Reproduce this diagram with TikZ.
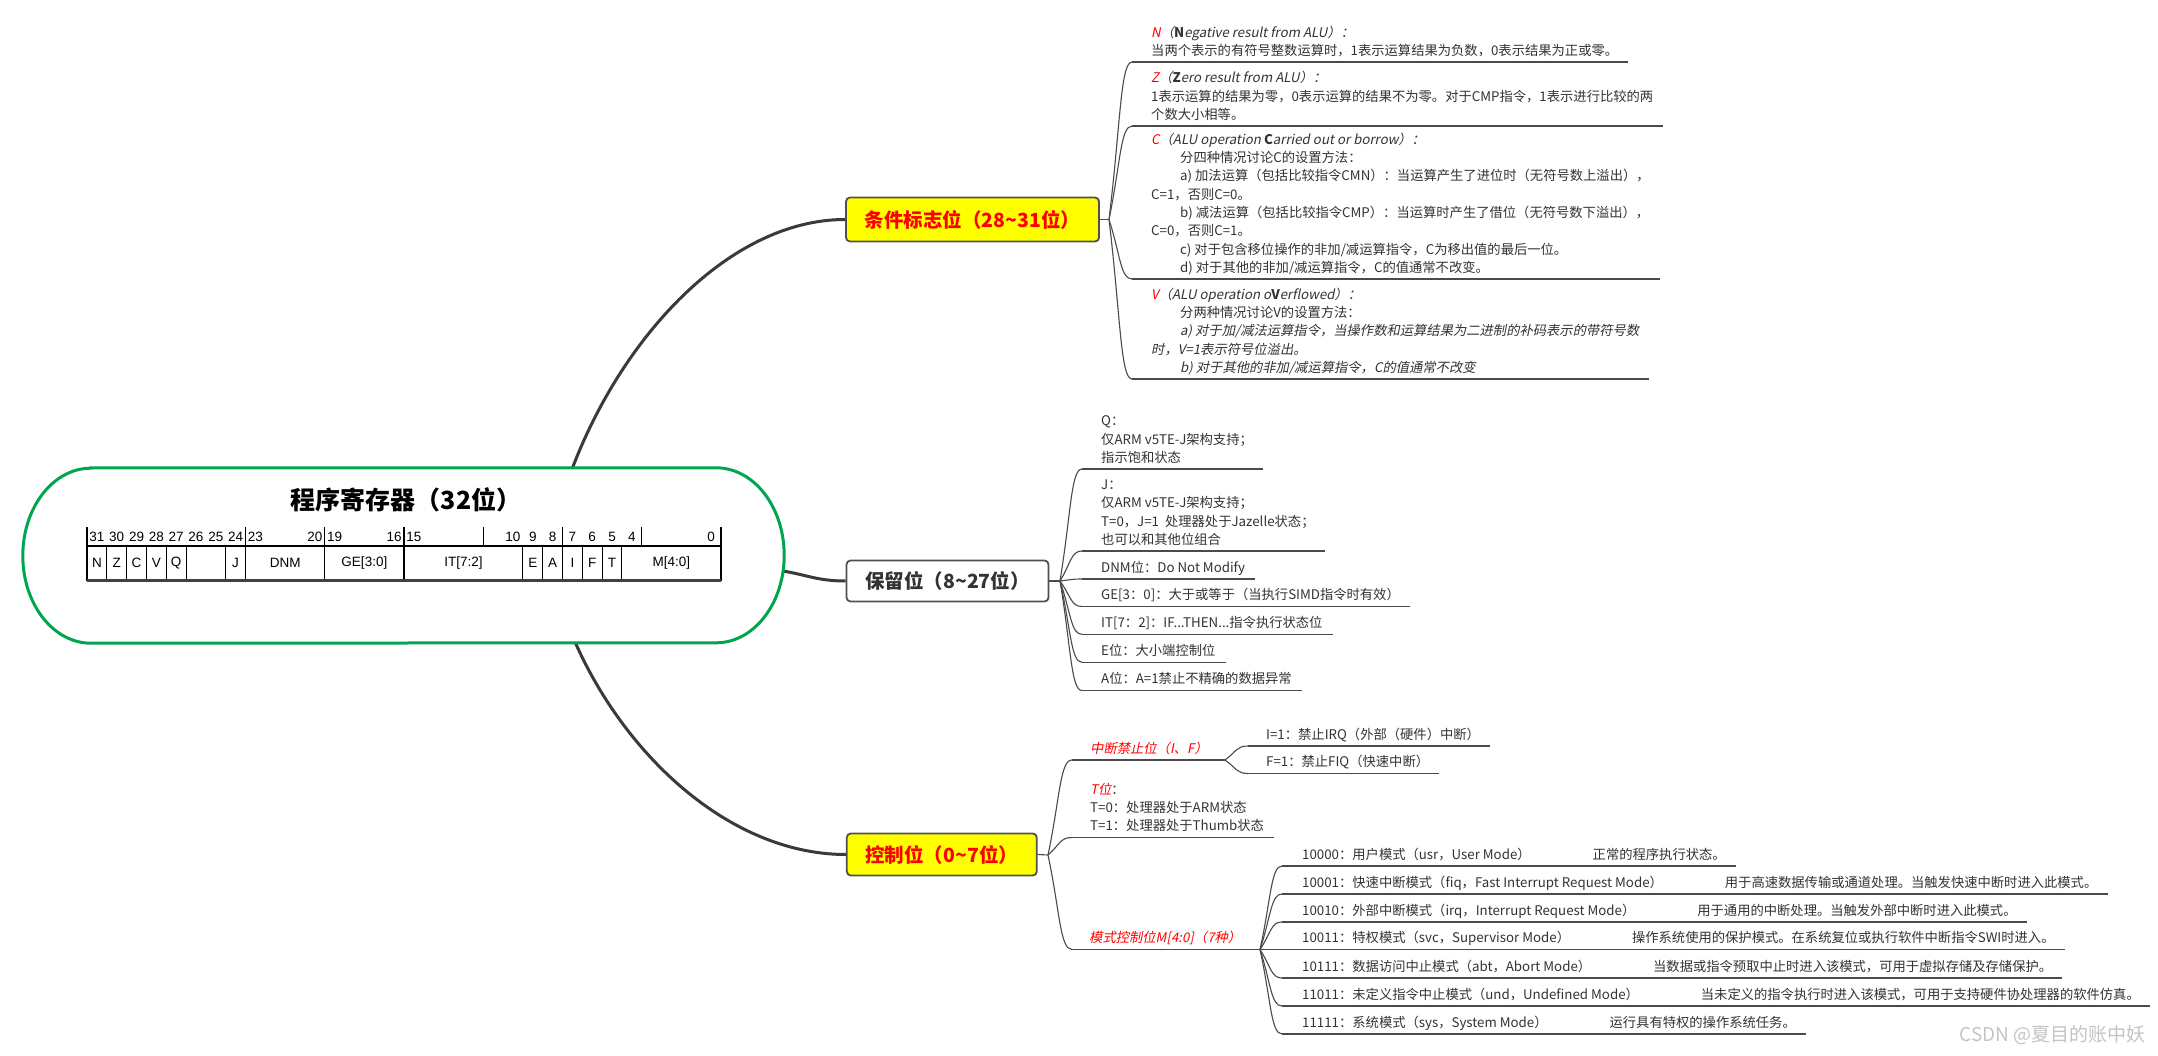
\documentclass[tikz,border=0pt]{standalone}
\usepackage{fontspec}
\setmainfont{Noto Sans CJK SC}[AutoFakeSlant=0.2]
\newfontfamily\arialf{Liberation Sans}
\usetikzlibrary{calc,backgrounds}
\newcommand\myind{\hspace*{29pt}}
\newcommand\mgap{\hspace*{62pt}}
\definecolor{tx}{HTML}{333333}
\definecolor{ln}{HTML}{4A4A4A}
\definecolor{mainln}{HTML}{3A3A3A}
\definecolor{boxln}{HTML}{505050}
\definecolor{rootg}{HTML}{00A550}
\definecolor{ybox}{HTML}{FFFF00}
\definecolor{rd}{HTML}{FF0000}
\definecolor{wm}{HTML}{C4C4C4}
\tikzset{
  mainc/.style={draw=mainln, line width=3pt},
  conn/.style={draw=ln, line width=1.1pt},
  uline/.style={draw=ln, line width=1.1pt},
  brk/.style={to path={let \p1=(\tikztostart), \p2=(\tikztotarget) in
     .. controls ({\x1+0.5*(\x2-\x1)},{\y1+0.6*(\y2-\y1)}) and ({\x1+0.5*(\x2-\x1)},{\y2}) .. (\tikztotarget)}},
  leaf/.style={anchor=south west, inner sep=0pt, align=left, text=tx,
     font=\fontsize{13.3}{18.3}\selectfont, execute at end node=\strut},
  lone/.style={draw=boxln, line width=1.8pt, rounded corners=4pt, inner sep=0pt,
     font=\fontsize{19.5}{23}\selectfont\bfseries},
  tbl/.style={draw=black, line width=1.1pt},
  num/.style={font=\arialf\fontsize{13.5}{16}\selectfont, inner sep=0pt},
  celltxt/.style={font=\arialf\fontsize{13.5}{16}\selectfont, inner sep=0pt},
}
\begin{document}
\begin{tikzpicture}[x=1pt,y=-1pt]
\begin{pgfonlayer}{background}
\fill[white] (0,0) rectangle (2158,1056);
\end{pgfonlayer}
\useasboundingbox (0,0) rectangle (2158,1056);

% root
\node[minimum width=761pt, minimum height=175pt, inner sep=0pt] (root) at (403.5,555.5) {};
\draw[draw=rootg, line width=3pt, fill=white]
  ($(root.north west)+(68,0)$) -- ($(root.north east)+(-68,0)$)
  arc[start angle=90, end angle=-90, x radius=68pt, y radius=87.5pt]
  -- ($(root.south west)+(68,0)$)
  arc[start angle=270, end angle=90, x radius=68pt, y radius=87.5pt] -- cycle;
\node[font=\fontsize{25}{30}\selectfont\bfseries, text=black] (title) at (406,500) {程序寄存器（32位）};

% register table
\foreach \s/\e/\lab [count=\i] in {0/1/N,1/2/Z,2/3/C,3/4/V,4/5/Q,5/7/{},7/8/J,8/12/DNM,12/16/GE[3:0],16/22/IT[7:2],22/23/E,23/24/A,24/25/I,25/26/F,26/27/T,27/32/M[4:0]}{
  \draw[tbl] ({87+\s*19.8125},546) rectangle ({87+\e*19.8125},580);
  \node[celltxt] (cell\i) at ({87+(\s+\e)/2*19.8125},563) {\lab};
}
\foreach \k in {0,8,12,16,20,24,28,32}{
  \draw[tbl] ({87+\k*19.8125},527) -- ({87+\k*19.8125},546);
}
\foreach \bitn in {31,30,29,28,27,26,25,24,23,20,19,16,15,10,9,8,7,6,5,4,0}{
  \node[num] (num\bitn) at ({87+(31-\bitn+0.5)*19.8125},537) {\bitn};
}
\draw[line width=2.2pt, black!75] (87,580.5) -- (721,580.5);

% level-1 nodes
\node[lone, fill=ybox, text=rd, minimum width=253pt, minimum height=44pt] (cond) at (972.5,219.5) {条件标志位（28\string~31位）};
\node[lone, fill=white, text=tx, minimum width=202pt, minimum height=41pt] (resv) at (947.5,581) {保留位（8\string~27位）};
\node[lone, fill=ybox, text=rd, minimum width=190pt, minimum height=42pt] (ctrl) at (941.8,854.5) {控制位（0\string~7位）};

% ---------- section 1
\coordinate (f1) at (1109,219.5);
\draw[conn] (cond.east) -- (f1);

\coordinate (uN) at (1132,62);
\node[leaf] (N) at (1151,61) {{\itshape\color{rd}N}{\itshape（\textbf{N}egative result from ALU）：}\\
当两个表示的有符号整数运算时，1表示运算结果为负数，0表示结果为正或零。};
\coordinate (uZ) at (1132,126);
\node[leaf] (Z) at (1151,125) {{\itshape\color{rd}Z}{\itshape（\textbf{Z}ero result from ALU）：}\\
1表示运算的结果为零，0表示运算的结果不为零。对于CMP指令，1表示进行比较的两\\
个数大小相等。};
\coordinate (uC) at (1132,279);
\node[leaf] (C) at (1151,278) {{\itshape\color{rd}C}{\itshape（ALU operation \textbf{C}arried out or borrow）：}\\
\myind 分四种情况讨论C的设置方法：\\
\myind a) 加法运算（包括比较指令CMN）：当运算产生了进位时（无符号数上溢出），\\
C=1，否则C=0。\\
\myind b) 减法运算（包括比较指令CMP）：当运算时产生了借位（无符号数下溢出），\\
C=0，否则C=1。\\
\myind c) 对于包含移位操作的非加/减运算指令，C为移出值的最后一位。\\
\myind d) 对于其他的非加/减运算指令，C的值通常不改变。};
\coordinate (uV) at (1132,379);
\node[leaf] (V) at (1151,378) {{\itshape\color{rd}V}{\itshape（ALU operation o\textbf{V}erflowed）：}\\
\myind 分两种情况讨论V的设置方法：\\
\myind{\itshape a) 对于加/减法运算指令，当操作数和运算结果为二进制的补码表示的带符号数}\\
{\itshape 时，V=1表示符号位溢出。}\\
\myind{\itshape b) 对于其他的非加/减运算指令，C的值通常不改变}};
\foreach \nm in {N,Z,C,V}{
  \draw[uline] (u\nm) -- ($(u\nm -| \nm.east)+(10,0)$);
  \draw[conn] (f1) to[brk] (u\nm);
}

% ---------- section 2
\coordinate (f2) at (1060,581);
\draw[conn] (resv.east) -- (f2);
\coordinate (uQ) at (1082,469);
\node[leaf] (Q) at (1101,468) {Q：\\仅ARM v5TE-J架构支持；\\指示饱和状态};
\coordinate (uJ) at (1082,551);
\node[leaf] (J) at (1101,550) {J：\\仅ARM v5TE-J架构支持；\\T=0，J=1\ \ 处理器处于Jazelle状态；\\也可以和其他位组合};
\coordinate (uDNM) at (1082,579);
\node[leaf] (DNM) at (1101,578) {DNM位：Do Not Modify};
\coordinate (uGE) at (1082,606.5);
\node[leaf] (GE) at (1101,605.5) {GE[3：0]：大于或等于（当执行SIMD指令时有效）};
\coordinate (uIT) at (1082,634.3);
\node[leaf] (IT) at (1101,633.3) {IT[7：2]：IF...THEN...指令执行状态位};
\coordinate (uE) at (1082,662.3);
\node[leaf] (E) at (1101,661.3) {E位：大小端控制位};
\coordinate (uA) at (1082,690.5);
\node[leaf] (A) at (1101,689.5) {A位：A=1禁止不精确的数据异常};
\foreach \nm in {Q,J,DNM,GE,IT,E,A}{
  \draw[uline] (u\nm) -- ($(u\nm -| \nm.east)+(10,0)$);
  \draw[conn] (f2) to[brk] (u\nm);
}

% ---------- section 3
\coordinate (f3) at (1048,855);
\draw[conn] (ctrl.east) -- (f3);
\coordinate (uIF) at (1072,760);
\coordinate (sfIF) at (1225,760);
\node[leaf] (IF) at (1090,759) {{\itshape\color{rd}中断禁止位（I、F）}};
\draw[uline] (uIF) -- (sfIF);
\coordinate (uT) at (1072,837.5);
\node[leaf] (T) at (1090,836.5) {{\itshape\color{rd}T位}：\\T=0：处理器处于ARM状态\\T=1：处理器处于Thumb状态};
\draw[uline] (uT) -- ($(uT -| T.east)+(10,0)$);
\coordinate (uM) at (1072,949.5);
\coordinate (sfM) at (1260,949.5);
\node[leaf] (M) at (1089,948.5) {{\itshape\color{rd}模式控制位M[4:0]（7种）}};
\draw[uline] (uM) -- (sfM);
\foreach \nm in {IF,T,M}{
  \draw[conn] (f3) to[brk] (u\nm);
}

\coordinate (uI) at (1248,746);
\node[leaf] (I) at (1266,745) {I=1：禁止IRQ（外部（硬件）中断）};
\coordinate (uF) at (1248,773.5);
\node[leaf] (F) at (1266,772.5) {F=1：禁止FIQ（快速中断）};
\foreach \nm in {I,F}{
  \draw[uline] (u\nm) -- ($(u\nm -| \nm.east)+(10,0)$);
  \draw[conn] (sfIF) to[brk] (u\nm);
}

\coordinate (um1) at (1282,866);
\node[leaf] (m1) at (1302,865) {10000：用户模式（usr，User Mode）\mgap 正常的程序执行状态。};
\coordinate (um2) at (1282,894);
\node[leaf] (m2) at (1302,893) {10001：快速中断模式（fiq，Fast Interrupt Request Mode）\mgap 用于高速数据传输或通道处理。当触发快速中断时进入此模式。};
\coordinate (um3) at (1282,922);
\node[leaf] (m3) at (1302,921) {10010：外部中断模式（irq，Interrupt Request Mode）\mgap 用于通用的中断处理。当触发外部中断时进入此模式。};
\coordinate (um4) at (1282,949.5);
\node[leaf] (m4) at (1302,948.5) {10011：特权模式（svc，Supervisor Mode）\mgap 操作系统使用的保护模式。在系统复位或执行软件中断指令SWI时进入。};
\coordinate (um5) at (1282,978);
\node[leaf] (m5) at (1302,977) {10111：数据访问中止模式（abt，Abort Mode）\mgap 当数据或指令预取中止时进入该模式，可用于虚拟存储及存储保护。};
\coordinate (um6) at (1282,1006);
\node[leaf] (m6) at (1302,1005) {11011：未定义指令中止模式（und，Undefined Mode）\mgap 当未定义的指令执行时进入该模式，可用于支持硬件协处理器的软件仿真。};
\coordinate (um7) at (1282,1034);
\node[leaf] (m7) at (1302,1033) {11111：系统模式（sys，System Mode）\mgap 运行具有特权的操作系统任务。};
\foreach \nm in {m1,m2,m3,m4,m5,m6,m7}{
  \draw[uline] (u\nm) -- ($(u\nm -| \nm.east)+(10,0)$);
  \draw[conn] (sfM) to[brk] (u\nm);
}

% watermark
\node[font=\fontsize{19}{22}\selectfont, text=wm, anchor=east, inner sep=0pt] (wmk) at (2146,1035) {CSDN @夏目的账中妖};

% main connectors (behind the root)
\coordinate (s1) at (566,486);
\coordinate (s2) at (740,568);
\coordinate (s3) at (568,625);
\begin{pgfonlayer}{background}
\draw[mainc] (s1) .. controls (613.7,344.9) and (726,219.5) .. (cond.west);
\draw[mainc] (s2) .. controls (800,568) and (805,581) .. (resv.west);
\draw[mainc] (s3) .. controls (615.7,747.7) and (726,854.5) .. (ctrl.west);
\end{pgfonlayer}
\end{tikzpicture}
\end{document}
